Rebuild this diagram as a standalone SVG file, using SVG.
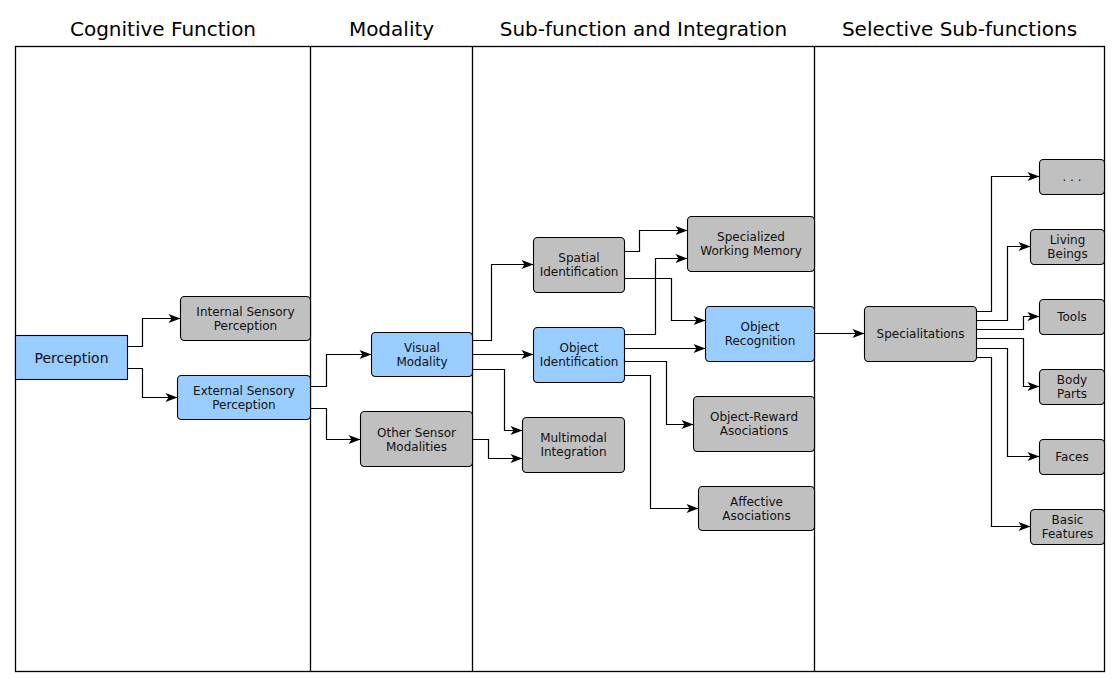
<svg xmlns="http://www.w3.org/2000/svg" width="1120" height="687" viewBox="0 0 1120 687">
<style>
.lane{fill:none;stroke:#000;stroke-width:1.3}
.title{font-family:"DejaVu Sans",sans-serif;font-size:20px;fill:#000;text-anchor:middle}
.g{fill:#c0c0c0;stroke:#000;stroke-width:1.1}
.b{fill:#99ccff;stroke:#000;stroke-width:1.1}
.t{font-family:"DejaVu Sans",sans-serif;font-size:12px;fill:#111;text-anchor:middle}
.tl{font-family:"DejaVu Sans",sans-serif;font-size:14px;fill:#111;text-anchor:middle}
.c{fill:none;stroke:#000;stroke-width:1.2;marker-end:url(#arr)}
</style>
<defs>
<marker id="arr" markerUnits="userSpaceOnUse" markerWidth="13" markerHeight="11" refX="12" refY="5" orient="auto" overflow="visible">
<path d="M0,0.5 L12,5 L0,9.5 L3,5 z" fill="#000"/>
</marker>
</defs>
<rect width="1120" height="687" fill="#fff"/>
<g id="lanes">
<rect class="lane" x="15.5" y="46.5" width="1089" height="625"/>
<line class="lane" x1="310.5" y1="46.5" x2="310.5" y2="671.5"/>
<line class="lane" x1="472.5" y1="46.5" x2="472.5" y2="671.5"/>
<line class="lane" x1="814.5" y1="46.5" x2="814.5" y2="671.5"/>
<text class="title" x="163" y="36">Cognitive Function</text>
<text class="title" x="391.5" y="36">Modality</text>
<text class="title" x="643.5" y="36">Sub-function and Integration</text>
<text class="title" x="959.5" y="36">Selective Sub-functions</text>
</g>
<g id="connectors">
<path class="c" d="M127.5,346.5 H142.5 V318.5 H180.5"/>
<path class="c" d="M127.5,368.5 H142.5 V397.5 H177.5"/>
<path class="c" d="M310.5,386.5 H326.5 V354.5 H371.5"/>
<path class="c" d="M310.5,408.5 H326.5 V439.5 H360.5"/>
<path class="c" d="M472.5,340.5 H491.5 V264.5 H533.5"/>
<path class="c" d="M472.5,354.5 H533.5"/>
<path class="c" d="M472.5,369.5 H504.5 V430.5 H522.5"/>
<path class="c" d="M472.5,439.5 H488.5 V458.5 H522.5"/>
<path class="c" d="M624.5,251.5 H639.5 V230.5 H687.5"/>
<path class="c" d="M624.5,334.5 H655.5 V258.5 H687.5"/>
<path class="c" d="M624.5,278.5 H671.5 V320.5 H705.5"/>
<path class="c" d="M624.5,348.5 H705.5"/>
<path class="c" d="M624.5,361.5 H666.5 V424.5 H693.5"/>
<path class="c" d="M624.5,375.5 H650.5 V508.5 H698.5"/>
<path class="c" d="M814.5,333.5 H864.5"/>
<path class="c" d="M976.5,311.5 H991.5 V176.5 H1039.5"/>
<path class="c" d="M976.5,320.5 H1007.5 V246.5 H1030.5"/>
<path class="c" d="M976.5,329.5 H1023.5 V316.5 H1039.5"/>
<path class="c" d="M976.5,338.5 H1023.5 V386.5 H1039.5"/>
<path class="c" d="M976.5,348.5 H1007.5 V456.5 H1039.5"/>
<path class="c" d="M976.5,357.5 H991.5 V526.5 H1030.5"/>
</g>
<g id="perception"><rect class="b" x="15.5" y="335.5" width="112" height="44"/><text class="tl" x="71.5" y="362.5">Perception</text></g>
<g id="internal"><rect class="g" x="180.5" y="296.5" width="130" height="44" rx="4"/><text class="t" x="245.5" y="315.5">Internal Sensory</text><text class="t" x="245.5" y="329.5">Perception</text></g>
<g id="external"><rect class="b" x="177.5" y="375.5" width="133" height="44" rx="4"/><text class="t" x="244" y="394.5">External Sensory</text><text class="t" x="244" y="408.5">Perception</text></g>
<g id="visual"><rect class="b" x="371.5" y="332.5" width="101" height="44" rx="4"/><text class="t" x="422" y="351.5">Visual</text><text class="t" x="422" y="365.5">Modality</text></g>
<g id="other"><rect class="g" x="360.5" y="411.5" width="112" height="55" rx="4"/><text class="t" x="416.5" y="436.5">Other Sensor</text><text class="t" x="416.5" y="450.5">Modalities</text></g>
<g id="spatial"><rect class="g" x="533.5" y="237.5" width="91" height="55" rx="4"/><text class="t" x="579" y="262">Spatial</text><text class="t" x="579" y="276">Identification</text></g>
<g id="objid"><rect class="b" x="533.5" y="327.5" width="91" height="55" rx="4"/><text class="t" x="579" y="352">Object</text><text class="t" x="579" y="366">Identification</text></g>
<g id="multimodal"><rect class="g" x="522.5" y="417.5" width="102" height="55" rx="4"/><text class="t" x="573.5" y="442">Multimodal</text><text class="t" x="573.5" y="456">Integration</text></g>
<g id="swm"><rect class="g" x="687.5" y="216.5" width="127" height="55" rx="4"/><text class="t" x="751" y="241">Specialized</text><text class="t" x="751" y="255">Working Memory</text></g>
<g id="objrec"><rect class="b" x="705.5" y="306.5" width="109" height="55" rx="4"/><text class="t" x="760" y="331">Object</text><text class="t" x="760" y="345">Recognition</text></g>
<g id="objreward"><rect class="g" x="693.5" y="396.5" width="121" height="55" rx="4"/><text class="t" x="754" y="421">Object-Reward</text><text class="t" x="754" y="435">Asociations</text></g>
<g id="affective"><rect class="g" x="698.5" y="486.5" width="116" height="44" rx="4"/><text class="t" x="756.5" y="505.5">Affective</text><text class="t" x="756.5" y="519.5">Asociations</text></g>
<g id="specialitations"><rect class="g" x="864.5" y="306.5" width="112" height="55" rx="4"/><text class="t" x="920.5" y="338">Specialitations</text></g>
<g id="more"><rect class="g" x="1039.5" y="159.5" width="65" height="35" rx="4"/><text class="t" x="1072" y="181">. . .</text></g>
<g id="living"><rect class="g" x="1030.5" y="229.5" width="74" height="35" rx="4"/><text class="t" x="1067.5" y="244">Living</text><text class="t" x="1067.5" y="258">Beings</text></g>
<g id="tools"><rect class="g" x="1039.5" y="299.5" width="65" height="35" rx="4"/><text class="t" x="1072" y="321">Tools</text></g>
<g id="body"><rect class="g" x="1039.5" y="369.5" width="65" height="35" rx="4"/><text class="t" x="1072" y="384">Body</text><text class="t" x="1072" y="398">Parts</text></g>
<g id="faces"><rect class="g" x="1039.5" y="439.5" width="65" height="35" rx="4"/><text class="t" x="1072" y="461">Faces</text></g>
<g id="basic"><rect class="g" x="1030.5" y="509.5" width="74" height="35" rx="4"/><text class="t" x="1067.5" y="524">Basic</text><text class="t" x="1067.5" y="538">Features</text></g>
</svg>
